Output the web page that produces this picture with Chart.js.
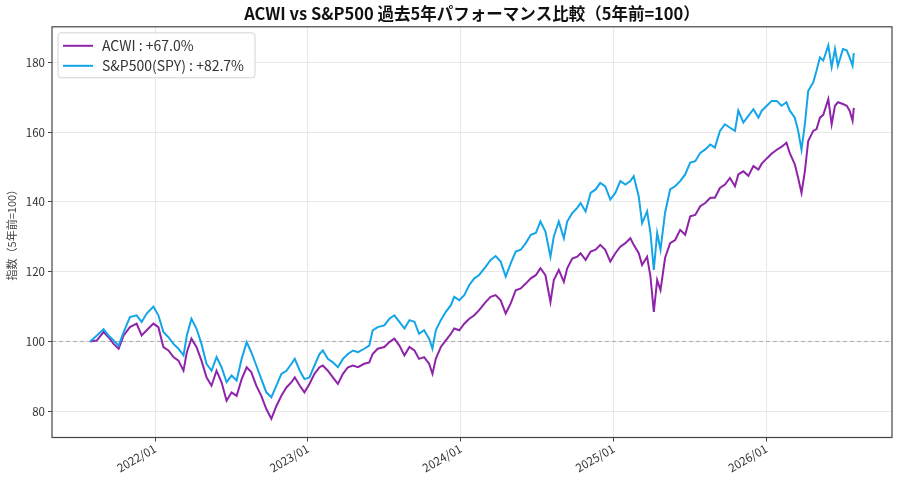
<!DOCTYPE html>
<html lang="ja">
<head>
<meta charset="utf-8">
<title>ACWI vs S&amp;P500</title>
<script src="https://cdn.jsdelivr.net/npm/chart.js@4.4.1/dist/chart.umd.min.js"></script>
<style>
html,body{margin:0;padding:0;background:#fff;}
#wrap{width:900px;height:485px;}
</style>
</head>
<body>
<div id="wrap"><canvas id="chart" width="900" height="485"></canvas></div>
<script>
// ---- data (index: 5 years ago = 100) ----
const dates = [
  '2021-07-30','2021-08-15','2021-08-31','2021-09-12','2021-09-24','2021-10-06','2021-10-18','2021-11-02','2021-11-18','2021-11-30','2021-12-12','2021-12-28',
  '2022-01-09','2022-01-21','2022-02-02','2022-02-14','2022-02-26','2022-03-10','2022-03-18','2022-03-29','2022-04-10','2022-04-22','2022-05-04','2022-05-16','2022-05-28','2022-06-09','2022-06-21','2022-07-03','2022-07-15','2022-07-27','2022-08-08','2022-08-19','2022-08-31','2022-09-12','2022-09-24','2022-10-06','2022-10-18','2022-10-30','2022-11-11','2022-11-23','2022-12-01','2022-12-13','2022-12-24',
  '2023-01-05','2023-01-17','2023-01-29','2023-02-06','2023-02-18','2023-03-02','2023-03-14','2023-03-26','2023-04-07','2023-04-19','2023-05-01','2023-05-16','2023-05-28','2023-06-05','2023-06-17','2023-07-03','2023-07-15','2023-07-27','2023-08-08','2023-08-20','2023-09-01','2023-09-13','2023-09-24','2023-10-06','2023-10-18','2023-10-26','2023-11-03','2023-11-15','2023-11-27','2023-12-09','2023-12-17','2023-12-29',
  '2024-01-10','2024-01-22','2024-02-03','2024-02-14','2024-03-01','2024-03-13','2024-03-25','2024-04-06','2024-04-18','2024-04-30','2024-05-12','2024-05-24','2024-06-05','2024-06-17','2024-06-29','2024-07-10','2024-07-22','2024-08-03','2024-08-11','2024-08-23','2024-09-04','2024-09-12','2024-09-24','2024-10-06','2024-10-14','2024-10-26','2024-11-07','2024-11-19','2024-11-30','2024-12-12','2024-12-24',
  '2025-01-05','2025-01-17','2025-01-29','2025-02-10','2025-02-18','2025-03-02','2025-03-10','2025-03-22','2025-03-30','2025-04-07','2025-04-15','2025-04-23','2025-05-04','2025-05-16','2025-05-28','2025-06-09','2025-06-21','2025-07-03','2025-07-15','2025-07-27','2025-08-08','2025-08-20','2025-08-31','2025-09-12','2025-09-24','2025-10-06','2025-10-18','2025-10-26','2025-11-07','2025-11-19','2025-12-01','2025-12-13','2025-12-21',
  '2026-01-02','2026-01-14','2026-01-26','2026-02-06','2026-02-18','2026-02-26','2026-03-10','2026-03-18','2026-03-26','2026-04-03','2026-04-11','2026-04-23','2026-05-01','2026-05-09','2026-05-17','2026-05-29','2026-06-06','2026-06-14','2026-06-21','2026-07-03','2026-07-12','2026-07-19','2026-07-26','2026-07-29'
];

const acwi = [
  100, 100.3, 102.7, 101.2, 99.3, 97.9, 101.7, 104.1, 105.1, 101.7, 103.2, 105.1,
  104.1, 98.4, 97.4, 95.5, 94.5, 91.6, 96.9, 100.8, 98.4, 94.5, 89.7, 87.3, 91.6, 88.3, 83, 85.4, 84.4, 89.2, 92.6, 91.2, 87.3, 84.4, 80.6, 77.8, 81.5, 84.4, 86.8, 88.3, 89.7, 87.3, 85.4,
  87.8, 90.7, 92.6, 93.1, 91.6, 89.7, 87.8, 90.7, 92.6, 93.1, 92.6, 93.6, 94, 96.4, 97.9, 98.4, 99.8, 100.8, 98.8, 96, 98.4, 97.4, 95, 95.5, 93.6, 90.7, 95, 98.4, 100.3, 102.2, 103.7, 103.2,
  105.1, 106.5, 107.5, 108.9, 111.3, 112.8, 113.3, 111.8, 108, 110.9, 114.7, 115.2, 116.6, 118.1, 119, 121, 119, 111.3, 117.6, 120.5, 117.1, 121, 123.8, 124.3, 125.3, 123.4, 125.8, 126.3, 127.7, 126.3, 122.9,
  125.3, 127.2, 128.2, 129.6, 127.7, 125.3, 121.9, 124.3, 118.6, 108.5, 117.6, 114.7, 124, 128.2, 129.1, 132, 130.6, 135.9, 136.3, 138.8, 139.7, 141.2, 141.2, 144, 145, 146.9, 144.5, 147.9, 148.8, 147.5, 150.3, 149.3, 151,
  152.5, 153.9, 155, 155.8, 157, 154, 150.8, 146.9, 142.6, 148.8, 157.5, 160.4, 160.9, 164.2, 165, 169.5, 162.3, 167.6, 168.6, 168.1, 167.6, 166.2, 163.3, 167.0
];

const spy = [
  100, 101.7, 103.5, 101.7, 100.3, 98.8, 102.7, 107, 107.5, 105.6, 108, 110,
  107.5, 102.7, 101.2, 99.3, 97.9, 96, 101.7, 106.5, 103.7, 99.3, 93.6, 91.6, 95.5, 92.6, 88.3, 90.2, 88.8, 95, 99.8, 96.9, 93.1, 89.2, 85.4, 84, 87.3, 90.7, 91.6, 93.6, 95, 91.6, 89.2,
  89.7, 93.1, 96.4, 97.4, 95, 94, 92.6, 95, 96.4, 97.4, 96.9, 97.9, 98.8, 103.2, 104.1, 104.6, 106.5, 107.5, 105.6, 103.7, 106.1, 105.6, 102.2, 103.2, 100.8, 97.9, 103.2, 106.1, 108.5, 110.4, 112.8, 111.8,
  113.3, 116.2, 118.1, 119, 121.4, 123.4, 124.5, 122.9, 118.6, 122.4, 125.8, 126.3, 128.2, 130.6, 131.1, 134.4, 131.5, 124.3, 130.1, 134.4, 129.6, 134.4, 136.8, 138.3, 139.7, 137.3, 142.6, 143.6, 145.5, 144.5, 140.7,
  142.6, 146, 145, 146, 147.4, 141.6, 133.9, 137.3, 131.1, 120.5, 131.1, 126.3, 137, 143.6, 144.5, 146, 147.9, 151.3, 151.7, 154.1, 155.1, 156.5, 155.6, 160.4, 162.3, 161.3, 160.4, 166.2, 162.8, 164.7, 166.6, 164.2, 166.2,
  167.6, 169, 169, 167.6, 168.6, 166.2, 164.2, 160.4, 155, 162.3, 171.9, 174.3, 177.7, 181.5, 180.6, 184.9, 178.7, 183.9, 179.1, 183.9, 183.5, 181.5, 179.1, 182.7
];

const seriesNames = ['ACWI', 'S&P500(SPY)'];
const xTickLabels = ['2022/01', '2023/01', '2024/01', '2025/01', '2026/01'];
const yTicks = [80, 100, 120, 140, 160, 180];
const baseLevel = 100;

// ---- helpers ----
const FONT = '"Noto Sans CJK JP", "Noto Sans", sans-serif';
const COLORS = ['#8e24aa', '#14a5e8'];

const ts = dates.map(d => Date.parse(d));
const toPoints = arr => arr.map((v, i) => ({ x: ts[i], y: v }));
const xSpan = ts[ts.length - 1] - ts[0];
const allVals = acwi.concat(spy);
const yLo = Math.min(...allVals), yHi = Math.max(...allVals);
const ySpan = yHi - yLo;

const pct = arr => {
  const r = arr[arr.length - 1] - baseLevel;
  return (r >= 0 ? '+' : '') + r.toFixed(1) + '%';
};

// frame + dashed 100 line
const framePlugin = {
  id: 'frame',
  beforeDatasetsDraw(chart) {
    const { ctx, chartArea, scales } = chart;
    const y = scales.y.getPixelForValue(baseLevel);
    ctx.save();
    ctx.strokeStyle = '#aaaaaa';
    ctx.lineWidth = 1;
    ctx.setLineDash([4, 3]);
    ctx.beginPath();
    ctx.moveTo(chartArea.left, y);
    ctx.lineTo(chartArea.right, y);
    ctx.stroke();
    ctx.restore();
  },
  afterDatasetsDraw(chart) {
    const { ctx, chartArea } = chart;
    ctx.save();
    ctx.strokeStyle = '#444';
    ctx.lineWidth = 1.2;
    ctx.strokeRect(chartArea.left, chartArea.top, chartArea.right - chartArea.left, chartArea.bottom - chartArea.top);
    ctx.restore();
  }
};

// legend inside the plot, top left
const legendPlugin = {
  id: 'innerLegend',
  afterDraw(chart) {
    const { ctx, chartArea } = chart;
    const x = chartArea.left + 6, y = chartArea.top + 6;
    ctx.save();
    ctx.beginPath();
    ctx.roundRect(x, y, 197, 45, 3);
    ctx.fillStyle = 'rgba(255,255,255,0.85)';
    ctx.fill();
    ctx.strokeStyle = '#d4d4d4';
    ctx.lineWidth = 1;
    ctx.stroke();
    ctx.font = '14px ' + FONT;
    ctx.textBaseline = 'middle';
    chart.data.datasets.forEach((ds, i) => {
      const ly = y + 13 + i * 20;
      ctx.strokeStyle = ds.borderColor;
      ctx.lineWidth = 2;
      ctx.beginPath();
      ctx.moveTo(x + 5, ly);
      ctx.lineTo(x + 35, ly);
      ctx.stroke();
      ctx.fillStyle = '#333';
      ctx.fillText(ds.label, x + 44, ly);
    });
    ctx.restore();
  }
};

new Chart(document.getElementById('chart'), {
  type: 'line',
  data: {
    datasets: [
      { label: seriesNames[0] + ' : ' + pct(acwi), data: toPoints(acwi), borderColor: COLORS[0], order: 1 },
      { label: seriesNames[1] + ' : ' + pct(spy), data: toPoints(spy), borderColor: COLORS[1], order: 0 }
    ]
  },
  options: {
    responsive: false,
    animation: false,
    layout: { padding: { left: 0, right: 8, top: 0, bottom: 0 } },
    elements: {
      point: { radius: 0 },
      line: { borderWidth: 2, tension: 0, fill: false }
    },
    plugins: {
      legend: { display: false },
      tooltip: { enabled: false },
      title: {
        display: true,
        fullSize: false,
        text: 'ACWI vs S&P500 過去5年パフォーマンス比較（5年前=100）',
        font: { family: FONT, size: 16.5, weight: 'bold' },
        color: '#111',
        padding: { top: 4, bottom: 3 }
      }
    },
    scales: {
      x: {
        type: 'linear',
        min: ts[0] - 0.05 * xSpan,
        max: ts[ts.length - 1] + 0.05 * xSpan,
        afterBuildTicks: s => {
          s.ticks = xTickLabels.map(l => ({ value: Date.UTC(+l.slice(0, 4), +l.slice(5) - 1, 1) }));
        },
        afterFit: s => { s.height = 47.5; },
        ticks: {
          autoSkip: false,
          minRotation: 30,
          maxRotation: 30,
          padding: 0,
          color: '#333',
          font: { family: FONT, size: 11.5 },
          callback: v => {
            const d = new Date(v);
            return d.getUTCFullYear() + '/' + String(d.getUTCMonth() + 1).padStart(2, '0');
          }
        },
        grid: { color: '#e8e8e8', tickColor: '#444', tickLength: 4 },
        border: { display: false }
      },
      y: {
        min: yLo - 0.05 * ySpan,
        max: yHi + 0.05 * ySpan,
        afterBuildTicks: s => { s.ticks = yTicks.map(v => ({ value: v })); },
        afterFit: s => { s.width = 52; },
        ticks: {
          padding: 3,
          color: '#333',
          font: { family: FONT, size: 11.5 }
        },
        grid: { color: '#e8e8e8', tickColor: '#444', tickLength: 4 },
        border: { display: false },
        title: {
          display: true,
          text: '指数（5年前=100）',
          color: '#444',
          font: { family: FONT, size: 11 },
          padding: { top: 5, bottom: 0 }
        }
      }
    }
  },
  plugins: [framePlugin, legendPlugin]
});
</script>
</body>
</html>
